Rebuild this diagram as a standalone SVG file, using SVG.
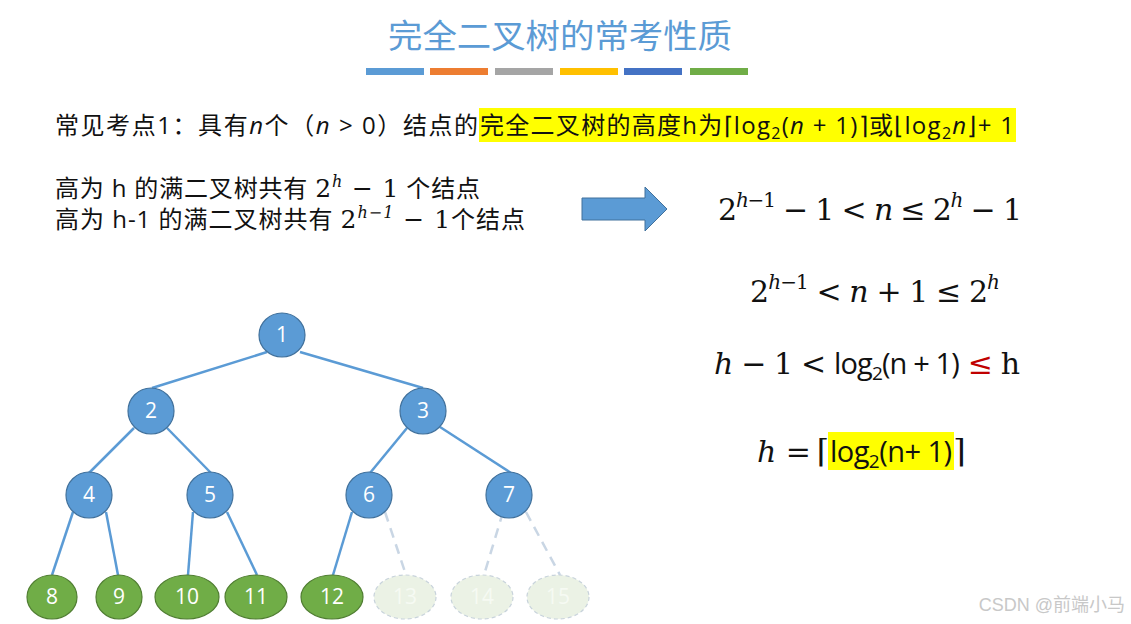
<svg xmlns="http://www.w3.org/2000/svg" width="1131" height="624" viewBox="0 0 1131 624">
<style>
.cj{font-family:"Open Sans","Noto Sans CJK SC",sans-serif;fill:#111}
.m{font-family:"DejaVu Serif","Liberation Serif",serif;fill:#111}
.i{font-style:italic}
.bn{fill:#5B9BD5;stroke:#41719C;stroke-width:1.2}
.gn{fill:#70AD47;stroke:#507E32;stroke-width:1.2}
.fn{fill:#EBF2E5;stroke:#C8D3DB;stroke-width:1.2;stroke-dasharray:4 3}
.nt{font-family:"Open Sans","Liberation Sans",sans-serif;font-size:21px;fill:#fff;text-anchor:middle}
.ft{fill:#F6FAF3}
.e{stroke:#5B9BD5;stroke-width:2.5;fill:none}
.d{stroke:#C9D6E4;stroke-width:2.5;fill:none;stroke-dasharray:10 7}
</style>
<rect width="1131" height="624" fill="#fff"/>
<g id="title">
<text x="388" y="48" textLength="344" lengthAdjust="spacingAndGlyphs" font-family="Noto Sans CJK SC,sans-serif" font-size="33" fill="#5B9BD5">完全二叉树的常考性质</text>
<rect x="366" y="68" width="58" height="7" fill="#5B9BD5"/>
<rect x="430" y="68" width="58" height="7" fill="#ED7D31"/>
<rect x="495" y="68" width="58" height="7" fill="#A5A5A5"/>
<rect x="560" y="68" width="58" height="7" fill="#FFC000"/>
<rect x="624" y="68" width="58" height="7" fill="#4472C4"/>
<rect x="690" y="68" width="58" height="7" fill="#70AD47"/>
</g>
<g id="line1">
<rect x="479" y="108" width="537" height="34" fill="#FFFF00"/>
<text class="cj" x="55" y="134" font-size="24" textLength="423" lengthAdjust="spacing">常见考点1：具有<tspan class="i">n</tspan>个（<tspan class="i">n</tspan> &gt; 0）结点的</text>
<text class="cj" x="480" y="134" font-size="24" textLength="534" lengthAdjust="spacing">完全二叉树的高度h为⌈log<tspan font-size="16" dy="5">2</tspan><tspan dy="-5">(</tspan><tspan class="i">n</tspan> + 1)⌉或⌊log<tspan font-size="16" dy="5">2</tspan><tspan class="i" dy="-5">n</tspan>⌋+ 1</text>
</g>
<g id="line2">
<text class="cj" x="55" y="197" font-size="24" textLength="425" lengthAdjust="spacing">高为 h 的满二叉树共有 <tspan class="m" font-size="25">2</tspan><tspan class="m i" font-size="16" dy="-10">h</tspan><tspan class="m" font-size="25" dy="10"> − 1</tspan> 个结点</text>
<text class="cj" x="55" y="228" font-size="24" textLength="470" lengthAdjust="spacing">高为 h-1 的满二叉树共有 <tspan class="m" font-size="25">2</tspan><tspan class="m i" font-size="16" dy="-10">h−1</tspan><tspan class="m" font-size="25" dy="10"> − 1</tspan>个结点</text>
</g>
<g id="arrow">
<path d="M582,198 L645,198 L645,187 L667,209 L645,231 L645,220 L582,220 Z" fill="#5B9BD5" stroke="#41719C" stroke-width="1"/>
</g>
<g id="formulas">
<text class="m" x="718" y="220" font-size="30" textLength="304" lengthAdjust="spacing">2<tspan class="i" font-size="20" dy="-13">h</tspan><tspan font-size="20">−1</tspan><tspan dy="13"> − 1 &lt; </tspan><tspan class="i">n</tspan> ≤ 2<tspan class="i" font-size="20" dy="-13">h</tspan><tspan dy="13"> − 1</tspan></text>
<text class="m" x="750" y="302" font-size="30" textLength="250" lengthAdjust="spacing">2<tspan class="i" font-size="20" dy="-13">h</tspan><tspan font-size="20">−1</tspan><tspan dy="13"> &lt; </tspan><tspan class="i">n</tspan> + 1 ≤ 2<tspan class="i" font-size="20" dy="-13">h</tspan></text>
<text class="m" x="714" y="374" font-size="30" textLength="306" lengthAdjust="spacing"><tspan class="i">h</tspan> − 1 &lt; <tspan font-family="Open Sans,sans-serif" font-size="29">log<tspan font-size="19" dy="6">2</tspan><tspan dy="-6">(n + 1)</tspan></tspan> <tspan fill="#C00000">≤</tspan> h</text>
<rect x="828" y="432" width="126" height="38" fill="#FFFF00"/>
<text class="m" x="757" y="462" font-size="30"><tspan class="i">h</tspan> = </text>
<text class="m" x="829" y="462" font-size="32" text-anchor="end">⌈</text>
<text x="830" y="462" font-family="Open Sans,sans-serif" font-size="29" fill="#111" textLength="122" lengthAdjust="spacing">log<tspan font-size="19" dy="6">2</tspan><tspan dy="-6">(n+ 1)</tspan></text>
<text class="m" x="953" y="462" font-size="32">⌉</text>
</g>
<g id="connectors">
<line class="e" x1="267" y1="352" x2="152" y2="388"/>
<line class="e" x1="300" y1="352" x2="423" y2="388"/>
<line class="e" x1="134" y1="428" x2="89" y2="473"/>
<line class="e" x1="167" y1="428" x2="211" y2="473"/>
<line class="e" x1="407" y1="428" x2="370" y2="473"/>
<line class="e" x1="440" y1="427" x2="511" y2="473"/>
<line class="e" x1="73" y1="512" x2="52" y2="575"/>
<line class="e" x1="106" y1="512" x2="118" y2="575"/>
<line class="e" x1="193" y1="512" x2="188" y2="575"/>
<line class="e" x1="227" y1="512" x2="257" y2="575"/>
<line class="e" x1="352" y1="512" x2="333" y2="575"/>
<line class="d" x1="385" y1="512" x2="406" y2="575"/>
<line class="d" x1="503" y1="512" x2="484" y2="575"/>
<line class="d" x1="526" y1="512" x2="560" y2="575"/>
</g>
<g id="n1"><ellipse class="bn" cx="282" cy="335" rx="23" ry="22"/><text class="nt" x="282" y="342">1</text></g>
<g id="n2"><ellipse class="bn" cx="151" cy="411" rx="23" ry="23"/><text class="nt" x="151" y="418">2</text></g>
<g id="n3"><ellipse class="bn" cx="423" cy="411" rx="23" ry="23"/><text class="nt" x="423" y="418">3</text></g>
<g id="n4"><ellipse class="bn" cx="89" cy="495" rx="23" ry="23"/><text class="nt" x="89" y="502">4</text></g>
<g id="n5"><ellipse class="bn" cx="210" cy="495" rx="23" ry="23"/><text class="nt" x="210" y="502">5</text></g>
<g id="n6"><ellipse class="bn" cx="369" cy="495" rx="23" ry="23"/><text class="nt" x="369" y="502">6</text></g>
<g id="n7"><ellipse class="bn" cx="509" cy="495" rx="23" ry="23"/><text class="nt" x="509" y="502">7</text></g>
<g id="n8"><ellipse class="gn" cx="52" cy="597" rx="25" ry="22"/><text class="nt" x="52" y="604">8</text></g>
<g id="n9"><ellipse class="gn" cx="119" cy="597" rx="23" ry="22"/><text class="nt" x="119" y="604">9</text></g>
<g id="n10"><ellipse class="gn" cx="187" cy="597" rx="32" ry="22"/><text class="nt" x="187" y="604">10</text></g>
<g id="n11"><ellipse class="gn" cx="256" cy="597" rx="31" ry="22"/><text class="nt" x="256" y="604">11</text></g>
<g id="n12"><ellipse class="gn" cx="332" cy="597" rx="31" ry="22"/><text class="nt" x="332" y="604">12</text></g>
<g id="n13"><ellipse class="fn" cx="405" cy="597" rx="31" ry="22"/><text class="nt ft" x="405" y="604">13</text></g>
<g id="n14"><ellipse class="fn" cx="482" cy="597" rx="31" ry="22"/><text class="nt ft" x="482" y="604">14</text></g>
<g id="n15"><ellipse class="fn" cx="558" cy="597" rx="31" ry="22"/><text class="nt ft" x="558" y="604">15</text></g>
<text x="1125" y="611" text-anchor="end" font-family="Liberation Sans,Noto Sans CJK SC,sans-serif" font-size="18" fill="#C8C8C8">CSDN @前端小马</text>
</svg>
